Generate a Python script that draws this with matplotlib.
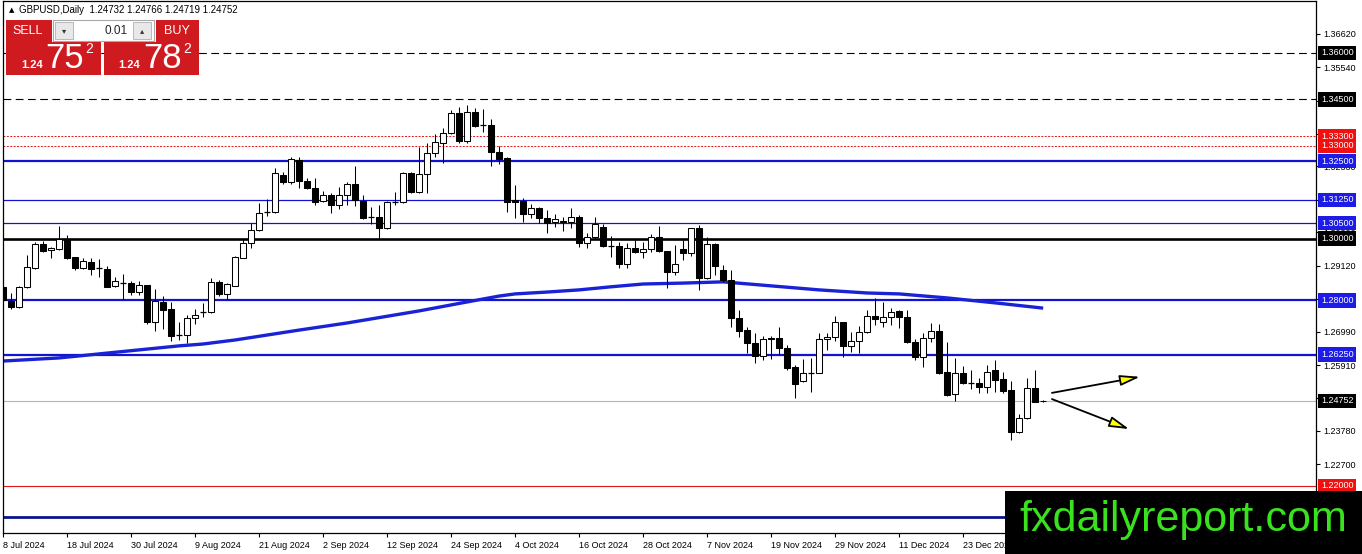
import matplotlib
matplotlib.use("Agg")
import matplotlib.pyplot as plt
from matplotlib.patches import Rectangle

W, H = 1362, 554
plt.rcParams['font.family'] = ['Liberation Sans', 'DejaVu Sans']

# daily GBPUSD candles, 8 Jul 2024 .. 8 Jan 2025
opens = [1.2844, 1.2798, 1.2779, 1.2844, 1.2905, 1.2983, 1.2963, 1.2966, 1.2999, 1.2940,
         1.2905, 1.2924, 1.2905, 1.2902, 1.2847, 1.2856, 1.2856, 1.2827, 1.2850, 1.2730,
         1.2795, 1.2772, 1.2688, 1.2688, 1.2743, 1.2763, 1.2763, 1.2860, 1.2821, 1.2847,
         1.2937, 1.2986, 1.3028, 1.3086, 1.3086, 1.3206, 1.3183, 1.3254, 1.3186, 1.3164,
         1.3122, 1.3141, 1.3109, 1.3141, 1.3176, 1.3122, 1.3070, 1.3070, 1.3034, 1.3118,
         1.3118, 1.3212, 1.3151, 1.3209, 1.3277, 1.3309, 1.3341, 1.3406, 1.3316, 1.3409,
         1.3367, 1.3367, 1.3280, 1.3261, 1.3125, 1.3122, 1.3079, 1.3099, 1.3067, 1.3054,
         1.3057, 1.3054, 1.3070, 1.2986, 1.3005, 1.3037, 1.2976, 1.2976, 1.2918, 1.2970,
         1.2957, 1.2966, 1.3005, 1.2960, 1.2892, 1.2966, 1.2953, 1.3034, 1.2873, 1.2983,
         1.2898, 1.2866, 1.2743, 1.2704, 1.2662, 1.2620, 1.2679, 1.2679, 1.2646, 1.2585,
         1.2540, 1.2565, 1.2565, 1.2675, 1.2682, 1.2730, 1.2653, 1.2669, 1.2698, 1.2750,
         1.2730, 1.2747, 1.2766, 1.2747, 1.2666, 1.2617, 1.2679, 1.2701, 1.2569, 1.2498,
         1.2565, 1.2533, 1.2533, 1.2520, 1.2575, 1.2546, 1.2510, 1.2375, 1.2420, 1.2517,
         1.24732]
highs = [1.2850, 1.2824, 1.2847, 1.2947, 1.2989, 1.2992, 1.2973, 1.3041, 1.3012, 1.2940,
         1.2937, 1.2937, 1.2934, 1.2911, 1.2876, 1.2886, 1.2863, 1.2863, 1.2850, 1.2837,
         1.2814, 1.2795, 1.2730, 1.2753, 1.2772, 1.2792, 1.2873, 1.2866, 1.2856, 1.2944,
         1.2999, 1.3050, 1.3115, 1.3128, 1.3228, 1.3215, 1.3264, 1.3264, 1.3196, 1.3196,
         1.3154, 1.3147, 1.3167, 1.3183, 1.3235, 1.3141, 1.3102, 1.3109, 1.3122, 1.3151,
         1.3215, 1.3215, 1.3296, 1.3309, 1.3338, 1.3358, 1.3416, 1.3426, 1.3432, 1.3422,
         1.3419, 1.3387, 1.3299, 1.3264, 1.3173, 1.3131, 1.3112, 1.3102, 1.3092, 1.3079,
         1.3070, 1.3099, 1.3076, 1.3018, 1.3070, 1.3047, 1.3008, 1.2989, 1.2986, 1.2995,
         1.2989, 1.3015, 1.3041, 1.2961, 1.2979, 1.2995, 1.3035, 1.3044, 1.3005, 1.2986,
         1.2915, 1.2898, 1.2769, 1.2714, 1.2695, 1.2685, 1.2685, 1.2714, 1.2656, 1.2591,
         1.2611, 1.2614, 1.2695, 1.2695, 1.2750, 1.2731, 1.2698, 1.2717, 1.2769, 1.2808,
         1.2795, 1.2776, 1.2769, 1.2769, 1.2675, 1.2695, 1.2727, 1.2724, 1.2666, 1.2614,
         1.2588, 1.2575, 1.2549, 1.2591, 1.2607, 1.2569, 1.2540, 1.2433, 1.2549, 1.2575,
         1.24766]
lows = [1.2795, 1.2772, 1.2776, 1.2840, 1.2902, 1.2957, 1.2937, 1.2963, 1.2934, 1.2898,
        1.2902, 1.2882, 1.2876, 1.2843, 1.2843, 1.2801, 1.2818, 1.2818, 1.2724, 1.2701,
        1.2708, 1.2669, 1.2672, 1.2662, 1.2724, 1.2747, 1.2759, 1.2814, 1.2801, 1.2845,
        1.2936, 1.2970, 1.3025, 1.3073, 1.3083, 1.3176, 1.3176, 1.3164, 1.3160, 1.3109,
        1.3118, 1.3083, 1.3096, 1.3109, 1.3105, 1.3063, 1.3047, 1.2999, 1.3031, 1.3109,
        1.3115, 1.3147, 1.3147, 1.3147, 1.3264, 1.3244, 1.3338, 1.3309, 1.3309, 1.3361,
        1.3345, 1.3235, 1.3241, 1.3086, 1.3067, 1.3054, 1.3067, 1.3050, 1.3018, 1.3037,
        1.3025, 1.3034, 1.2973, 1.2970, 1.2999, 1.2973, 1.2940, 1.2905, 1.2905, 1.2953,
        1.2937, 1.2957, 1.2957, 1.2840, 1.2882, 1.2931, 1.2944, 1.2834, 1.2869, 1.2882,
        1.2860, 1.2714, 1.2682, 1.2630, 1.2598, 1.2607, 1.2611, 1.2624, 1.2575, 1.2485,
        1.2536, 1.2504, 1.2564, 1.2640, 1.2669, 1.2617, 1.2633, 1.2630, 1.2695, 1.2721,
        1.2714, 1.2721, 1.2711, 1.2662, 1.2607, 1.2585, 1.2666, 1.2562, 1.2491, 1.2475,
        1.2530, 1.2514, 1.2501, 1.2501, 1.2504, 1.2501, 1.2349, 1.2372, 1.2417, 1.2471,
        1.24719]
closes = [1.2801, 1.2779, 1.2844, 1.2908, 1.2983, 1.2960, 1.2970, 1.2999, 1.2937, 1.2905,
          1.2928, 1.2902, 1.2905, 1.2844, 1.2863, 1.2856, 1.2827, 1.2850, 1.2730, 1.2798,
          1.2769, 1.2685, 1.2688, 1.2743, 1.2753, 1.2763, 1.2860, 1.2821, 1.2853, 1.2940,
          1.2986, 1.3028, 1.3083, 1.3086, 1.3212, 1.3183, 1.3257, 1.3186, 1.3164, 1.3118,
          1.3141, 1.3109, 1.3141, 1.3176, 1.3125, 1.3067, 1.3070, 1.3034, 1.3118, 1.3118,
          1.3212, 1.3151, 1.3209, 1.3277, 1.3312, 1.3341, 1.3406, 1.3316, 1.3409, 1.3364,
          1.3367, 1.3280, 1.3257, 1.3118, 1.3118, 1.3079, 1.3099, 1.3067, 1.3050, 1.3063,
          1.3054, 1.3070, 1.2986, 1.3005, 1.3047, 1.2976, 1.2976, 1.2918, 1.2970, 1.2957,
          1.2966, 1.3005, 1.2960, 1.2892, 1.2918, 1.2953, 1.3034, 1.2873, 1.2983, 1.2911,
          1.2866, 1.2743, 1.2701, 1.2662, 1.2620, 1.2675, 1.2675, 1.2646, 1.2582, 1.2530,
          1.2565, 1.2565, 1.2675, 1.2682, 1.2730, 1.2653, 1.2669, 1.2698, 1.2750, 1.2740,
          1.2747, 1.2763, 1.2747, 1.2666, 1.2617, 1.2679, 1.2701, 1.2565, 1.2494, 1.2565,
          1.2533, 1.2533, 1.2520, 1.2569, 1.2543, 1.2507, 1.2375, 1.2420, 1.2517, 1.2472,
          1.24752]

# moving average (bar index, value)
ma_bar = [0, 7, 12, 22, 25, 29, 33, 37, 43, 52, 58, 62, 64, 68, 72, 76, 80, 85, 90,
          96, 102, 108, 112, 118, 124, 130]
ma_val = [1.2604, 1.2614, 1.2627, 1.2653, 1.2659, 1.2672, 1.2688, 1.2704, 1.2727, 1.2766,
          1.2795, 1.2814, 1.2821, 1.2827, 1.2834, 1.2844, 1.2853, 1.2856, 1.2860,
          1.2847, 1.2834, 1.2824, 1.2821, 1.2808, 1.2792, 1.2775]

date_labels = ["8 Jul 2024", "18 Jul 2024", "30 Jul 2024", "9 Aug 2024", "21 Aug 2024",
               "2 Sep 2024", "12 Sep 2024", "24 Sep 2024", "4 Oct 2024", "16 Oct 2024",
               "28 Oct 2024", "7 Nov 2024", "19 Nov 2024", "29 Nov 2024", "11 Dec 2024",
               "23 Dec 2024"]

levels = [1.36, 1.345, 1.333, 1.33, 1.325, 1.3125, 1.305, 1.30, 1.28, 1.2625, 1.22, 1.21]
bid = 1.24752

# scale labels; the ones sitting under a level box only keep their tick mark
price_ticks = [1.3662, 1.3554, 1.3446, 1.3338, 1.3233, 1.3125, 1.3020, 1.2912, 1.2804,
               1.2699, 1.2591, 1.2483, 1.2378, 1.2270, 1.2162]
hidden_ticks = [1.3446, 1.3338, 1.3125, 1.2804, 1.2483, 1.2162]

arrow_from = [(131.1, 1.2501), (131.1, 1.2481)]
arrow_to = [(142.1, 1.2553), (140.75, 1.2384)]

BLUE = '#1212d2'
NAVY = '#0a148c'
RED = '#e01818'
lvl_color = ['black', 'black', RED, RED, BLUE, BLUE, BLUE, 'black', BLUE, BLUE, RED, NAVY]
lvl_width = [0.8, 0.8, 0.7, 0.7, 1.6, 0.9, 0.9, 1.9, 1.6, 1.6, 0.8, 2.0]
lvl_dash = [(7, 4), (7, 4), (2, 1.5), (2, 1.5), None, None, None, None, None, None, None, None]

fig = plt.figure(figsize=(W / 100, H / 100), dpi=100)
ax = fig.add_axes([3 / W, 21 / H, 1313 / W, 532 / H])
ax.set_xlim(0, 164.1)
ax.set_ylim(1.2048, 1.3768)

for lv, c, lw, d in zip(levels, lvl_color, lvl_width, lvl_dash):
    ln = ax.axhline(lv, color=c, lw=lw, zorder=1)
    if d:
        ln.set_dashes(d)
ax.axhline(bid, color='#b4b4b4', lw=0.8, zorder=1)

ax.plot(ma_bar, ma_val, color='#1a22d6', lw=2.4, zorder=2, solid_capstyle='butt')

bw = 0.7
for i, (o, h, l, c) in enumerate(zip(opens, highs, lows, closes)):
    ax.vlines(i, l, h, color='black', lw=0.75, zorder=3)
    if abs(c - o) < 0.00005:
        ax.hlines(o, i - bw / 2, i + bw / 2, color='black', lw=0.9, zorder=4)
    else:
        fc = 'black' if c < o else 'white'
        ax.add_patch(Rectangle((i - bw / 2, min(o, c)), bw, abs(c - o),
                               fc=fc, ec='black', lw=0.75, zorder=4))

for s, e in zip(arrow_from, arrow_to):
    ax.annotate('', xy=e, xytext=s,
                arrowprops=dict(arrowstyle='-|>,head_length=1.2,head_width=0.32',
                                fc='#ffff00', ec='black', lw=1.3, mutation_scale=10,
                                shrinkA=0, shrinkB=0), zorder=6)

# axes styling like the terminal
for sp in ax.spines.values():
    sp.set_linewidth(0.9)
ax.yaxis.tick_right()
ax.set_yticks(price_ticks)
ax.set_yticklabels(["" if v in hidden_ticks else f"{v:.5f}" for v in price_ticks])
ax.set_xticks(range(0, 8 * len(date_labels), 8))
ax.set_xticklabels(date_labels)
for t in ax.get_xticklabels():
    t.set_horizontalalignment('left')
ax.tick_params(axis='both', length=3, width=0.8, labelsize=6.5, pad=2)
ax.tick_params(axis='x', pad=3)

# price boxes at the right edge
box_levels = levels[:-1] + [bid]
box_colors = ['black', 'black', '#f01010', '#f01010', '#1c1ce6', '#1c1ce6', '#1c1ce6',
              'black', '#1c1ce6', '#1c1ce6', '#f01010', 'black']
for lv, bc in zip(box_levels, box_colors):
    ax.annotate(f"{lv:.5f}", xy=(1, lv), xycoords=('axes fraction', 'data'),
                xytext=(5, 0), textcoords='offset pixels', ha='left', va='center',
                color='white', fontsize=6.5,
                bbox=dict(boxstyle='square,pad=0.3', fc=bc, ec='none'),
                annotation_clip=False, zorder=7)

# header
fig.text(9 / W, 1 - 10 / H, "\u25b2", fontsize=5, va='center', family='DejaVu Sans')
fig.text(19 / W, 1 - 10 / H, "GBPUSD,Daily  1.24732 1.24766 1.24719 1.24752",
         fontsize=7, va='center')


def box(x0, y0, x1, y1, **kw):
    r = Rectangle((x0 / W, 1 - y1 / H), (x1 - x0) / W, (y1 - y0) / H,
                  transform=fig.transFigure, zorder=10, **kw)
    fig.add_artist(r)


def label(x, y, s, **kw):
    return fig.text(x / W, 1 - y / H, s, zorder=11, **kw)


# one-click trading panel
SELLRED = '#cf1a20'
box(6, 20, 52, 42, fc=SELLRED, ec='none')
box(156, 20, 199, 42, fc=SELLRED, ec='none')
box(6, 42, 101, 75, fc=SELLRED, ec='none')
box(104, 42, 199, 75, fc=SELLRED, ec='none')
box(53, 20, 154, 41, fc='white', ec='#a8a8a8', lw=0.8)
box(55, 22, 73, 39, fc='#e8e8e8', ec='#b0b0b0', lw=0.6)
box(133, 22, 151, 39, fc='#e8e8e8', ec='#b0b0b0', lw=0.6)
label(28, 31, "SELL", color='white', fontsize=9, ha='center', va='center')
label(177, 31, "BUY", color='white', fontsize=9, ha='center', va='center')
label(64, 31, "\u25be", color='#333333', fontsize=6, ha='center', va='center', family='DejaVu Sans')
label(142, 31, "\u25b4", color='#333333', fontsize=6, ha='center', va='center', family='DejaVu Sans')
label(128, 31, "0.01", color='#222222', fontsize=8.5, ha='right', va='center')
label(32, 65, "1.24", color='white', fontsize=8, fontweight='bold', ha='center', va='center')
label(65, 58, "75", color='white', fontsize=25, ha='center', va='center')
label(89, 49, "2", color='white', fontsize=10, ha='center', va='center')
label(129, 65, "1.24", color='white', fontsize=8, fontweight='bold', ha='center', va='center')
label(163, 58, "78", color='white', fontsize=25, ha='center', va='center')
label(187, 49, "2", color='white', fontsize=10, ha='center', va='center')

# watermark, squeezed to the width of the black plate
box(1005, 491, 1362, 554, fc='black', ec='none')
wm = label(1183, 520, "fxdailyreport.com", color='#39e11f', fontsize=37,
           ha='center', va='center')
fig.canvas.draw()
wm_w = wm.get_window_extent().width
if wm_w > 328:
    wm.set_fontsize(37 * 328 / wm_w)

fig.savefig("out.png", dpi=100)
